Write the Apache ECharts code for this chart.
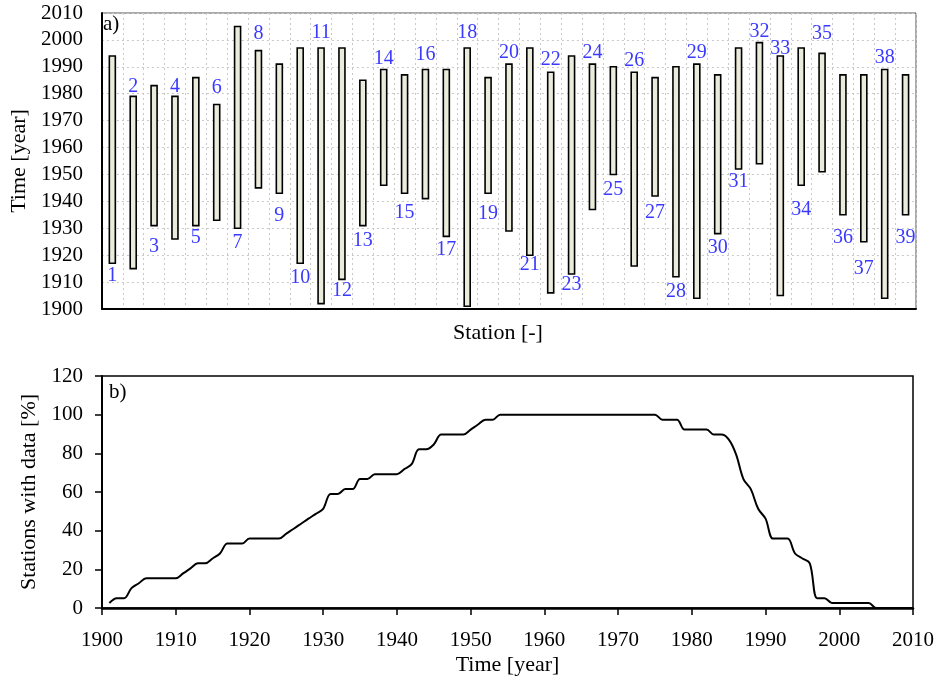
<!DOCTYPE html>
<html>
<head>
<meta charset="utf-8">
<script src="https://cdn.jsdelivr.net/npm/echarts@6/dist/echarts.min.js"></script>
<style>
  html, body { margin: 0; padding: 0; background: #fff; }
  #chart { width: 937px; height: 680px; }
</style>
</head>
<body>
<div id="chart"></div>
<script>
// Panel a) record period of each station
const stations = ['1','2','3','4','5','6','7','8','9','10','11','12','13','14','15','16','17','18','19','20',
                  '21','22','23','24','25','26','27','28','29','30','31','32','33','34','35','36','37','38','39'];
const startYear = [1917, 1915, 1931, 1926, 1931, 1933, 1930, 1945, 1943, 1917,
                   1902, 1911, 1931, 1946, 1943, 1941, 1927, 1901, 1943, 1929,
                   1920, 1906, 1913, 1937, 1950, 1916, 1942, 1912, 1904, 1928,
                   1952, 1954, 1905, 1946, 1951, 1935, 1925, 1904, 1935];
const endYear   = [1994, 1979, 1983, 1979, 1986, 1976, 2005, 1996, 1991, 1997,
                   1997, 1997, 1985, 1989, 1987, 1989, 1989, 1997, 1986, 1991,
                   1997, 1988, 1994, 1991, 1990, 1988, 1986, 1990, 1991, 1987,
                   1997, 1999, 1994, 1997, 1995, 1987, 1987, 1989, 1987];
// label placement: negative = above the bar top, positive = below the bar bottom (px to label centre)
const labelOffset = [12, -10, 21, -10, 12, -17, 14, -17, 22, 14,
                     -15, 11, 15, -11, 19, -15, 13, -15, 20, -11,
                     10, -12, 11, -11, 15, -11, 17, 15, -11, 14,
                     13, -11, -7, 25, -20, 23, 27, -12, 23];
const timeTicks = [1900, 2010, 10];

// Panel b) share of stations with data per year
const years = [];
for (let y = 1901; y <= 2010; y++) years.push(y);
const coverage = [
  2.6, 5.1, 5.1, 10.3, 12.8, 15.4, 15.4, 15.4, 15.4, 15.4,          // 1901-1910
  17.9, 20.5, 23.1, 23.1, 25.6, 28.2, 33.3, 33.3, 33.3, 35.9,       // 1911-1920
  35.9, 35.9, 35.9, 35.9, 38.5, 41.0, 43.6, 46.2, 48.7, 51.3,       // 1921-1930
  59.0, 59.0, 61.5, 61.5, 66.7, 66.7, 69.2, 69.2, 69.2, 69.2,       // 1931-1940
  71.8, 74.4, 82.1, 82.1, 84.6, 89.7, 89.7, 89.7, 89.7, 92.3,       // 1941-1950
  94.9, 97.4, 97.4, 100, 100, 100, 100, 100, 100, 100,              // 1951-1960
  100, 100, 100, 100, 100, 100, 100, 100, 100, 100,                 // 1961-1970
  100, 100, 100, 100, 100, 97.4, 97.4, 97.4, 92.3, 92.3,            // 1971-1980
  92.3, 92.3, 89.7, 89.7, 87.2, 79.5, 66.7, 61.5, 51.3, 46.2,       // 1981-1990
  35.9, 35.9, 35.9, 28.2, 25.6, 23.1, 5.1, 5.1, 2.6, 2.6,           // 1991-2000
  2.6, 2.6, 2.6, 2.6, 0, 0, 0, 0, 0, 0                              // 2001-2010
];

const serif = '"Liberation Serif", "Times New Roman", serif';
const tickText = { color: '#000', fontSize: 21, fontFamily: serif };
const nameText = { color: '#000', fontSize: 22, fontFamily: serif };
const plainNumber = v => String(v);
const gridDots = { show: true, lineStyle: { color: '#c8c8c8', type: [2, 3], width: 1 } };

const chart = echarts.init(document.getElementById('chart'), null, { renderer: 'canvas' });

chart.setOption({
  animation: false,
  backgroundColor: '#fff',
  grid: [
    { left: 97, top: 13, width: 819, height: 296, show: true, borderColor: '#555', borderWidth: 1, backgroundColor: 'transparent' },
    { left: 102, top: 376, width: 812, height: 232, show: true, borderColor: '#000', borderWidth: 1.5, backgroundColor: 'transparent' }
  ],
  graphic: [
    { type: 'text', left: 103, top: 14, style: { text: 'a)', fill: '#000', font: '21px ' + serif } },
    { type: 'text', left: 109, top: 382, style: { text: 'b)', fill: '#000', font: '21px ' + serif } }
  ],
  xAxis: [
    {
      gridIndex: 0, type: 'category', data: stations, boundaryGap: true,
      name: 'Station [-]', nameLocation: 'middle', nameGap: 13,
      nameTextStyle: Object.assign({ padding: [0, 22, 0, 0] }, nameText),
      axisLine: { lineStyle: { color: '#000', width: 2 } },
      axisTick: { show: false, interval: 0 },
      axisLabel: { show: false, interval: 0 },
      splitLine: Object.assign({ interval: 0 }, gridDots)
    },
    {
      gridIndex: 1, type: 'value', min: timeTicks[0], max: timeTicks[1], interval: timeTicks[2],
      name: 'Time [year]', nameLocation: 'middle', nameGap: 46, nameTextStyle: nameText,
      axisLine: { onZero: false, lineStyle: { color: '#000', width: 2.5 } },
      axisTick: { show: true, inside: false, length: 7, lineStyle: { color: '#000', width: 1.5 } },
      axisLabel: Object.assign({ margin: 22, formatter: plainNumber }, tickText),
      splitLine: { show: false }
    }
  ],
  yAxis: [
    {
      gridIndex: 0, type: 'value', min: timeTicks[0], max: timeTicks[1], interval: timeTicks[2],
      name: 'Time [year]', nameLocation: 'middle', nameGap: 63, nameTextStyle: nameText,
      axisLine: { show: true, lineStyle: { color: '#000', width: 2 } },
      axisTick: { show: false },
      axisLabel: Object.assign({ margin: 19, formatter: plainNumber }, tickText),
      splitLine: gridDots
    },
    {
      gridIndex: 1, type: 'value', min: 0, max: 120, interval: 20,
      name: 'Stations with data [%]', nameLocation: 'middle', nameGap: 51, nameTextStyle: nameText,
      axisLine: { show: true, lineStyle: { color: '#000', width: 2 } },
      axisTick: { show: true, length: 7, lineStyle: { color: '#000', width: 1.5 } },
      axisLabel: Object.assign({ margin: 19, formatter: plainNumber }, tickText),
      splitLine: { show: false }
    }
  ],
  series: [
    {
      type: 'custom',
      xAxisIndex: 0, yAxisIndex: 0,
      clip: false,
      data: stations.map((s, i) => [i, startYear[i], endYear[i]]),
      renderItem: function (params, api) {
        const idx = api.value(0);
        const top = api.coord([idx, api.value(2)]);
        const bot = api.coord([idx, api.value(1)]);
        const w = 6;
        const off = labelOffset[params.dataIndex];
        const ly = off < 0 ? top[1] + off : bot[1] + off;
        return {
          type: 'group',
          children: [
            {
              type: 'rect',
              shape: { x: top[0] - w / 2, y: top[1], width: w, height: bot[1] - top[1] },
              style: { fill: '#ebebdc', stroke: '#000', lineWidth: 1.6 }
            },
            {
              type: 'text',
              x: top[0], y: ly,
              style: { text: stations[params.dataIndex], fill: '#3a3aff', font: '20px ' + serif, align: 'center', verticalAlign: 'middle' }
            }
          ]
        };
      }
    },
    {
      type: 'line',
      xAxisIndex: 1, yAxisIndex: 1,
      data: years.map((y, i) => [y, coverage[i]]),
      smooth: 0.35,
      showSymbol: false,
      lineStyle: { color: '#000', width: 2 }
    }
  ]
});
</script>
</body>
</html>
